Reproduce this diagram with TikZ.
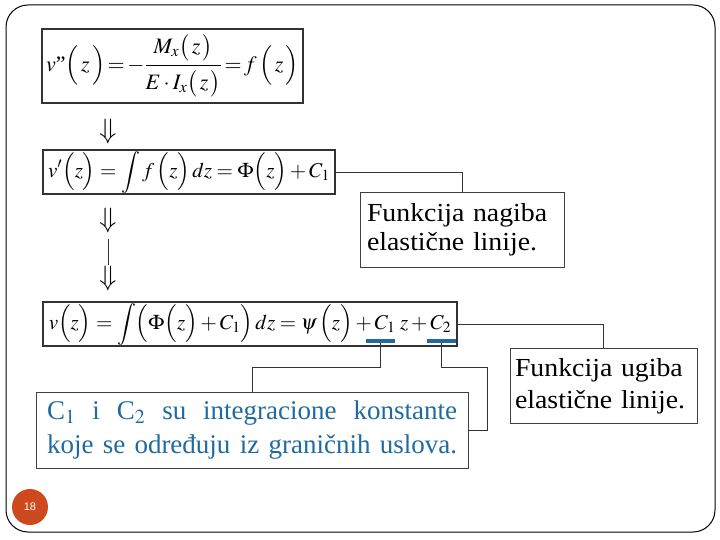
\documentclass[tikz,border=0pt]{standalone}
\usepackage{amsmath}
\usepackage{mathptmx}
\usepackage{fontspec}
\setmainfont{Liberation Serif}
\newfontfamily\notefont[FakeStretch=1.07]{Liberation Serif}
\newfontfamily\numfont{Liberation Sans}
\definecolor{slideblue}{HTML}{1F6BA0}
\definecolor{pageorange}{HTML}{CC4A1E}
\usepackage{tikz}
\usetikzlibrary{positioning}
\newcommand{\eqsign}{\mathrel{\mkern-2mu=\mkern-2mu}}
\tikzset{
	eqnode/.style={
			draw=black!80,
			line width=2pt,
			inner sep=0pt,
			font=\fontsize{21}{24}\selectfont
		},
	notenode/.style={
			draw=black!75,
			line width=0.8pt,
			inner ysep=0pt,
			inner xsep=7pt,
			align=left,
			font=\notefont\fontsize{26}{29}\selectfont
		},
	downnode/.style={
			inner sep=0pt,
			font=\fontsize{28}{28}\selectfont
		},
	linknode/.style={
			draw=black!80,
			line width=0.8pt
		},
	marknode/.style={
			draw=none,
			fill=slideblue,
			inner sep=0pt,
			minimum width=29pt,
			minimum height=3.5pt
		},
	pagenode/.style={
			circle,
			fill=pageorange,
			text=white,
			minimum size=36pt,
			inner sep=0pt,
			font=\numfont\fontsize{11}{11}\selectfont
		}
}

\begin{document}
\begin{tikzpicture}[x=1pt, y=-1pt]
\useasboundingbox (0,0) rectangle (720,540);
\draw[rounded corners=22pt, line width=1pt] (6,5) rectangle (715,532);

\node[eqnode, line width=1.5pt, minimum width=261pt, minimum height=74pt,
      font=\fontsize{22}{25}\selectfont] (eq1) at (172.5,66)
  {$\displaystyle v\mbox{"}\Bigl(\,z\,\Bigr)\eqsign-\frac{\raisebox{3pt}{$M_x\bigl(\,z\,\bigr)$}}{\raisebox{-3pt}{$E\cdot I_x\bigl(\,z\,\bigr)$}}\eqsign f\,\Bigl(\,z\,\Bigr)$};
\node[eqnode, minimum width=292pt, minimum height=44pt] (eq2) at (189,172)
  {$\displaystyle v'\Bigl(z\Bigr)=\int f\,\Bigl(z\Bigr)\,dz=\Phi\Bigl(z\Bigr)+C_1$};
\node[eqnode, minimum width=414pt, minimum height=44pt] (eq3) at (250,324)
  {$\displaystyle v\Bigl(z\Bigr)=\int\Bigl(\Phi\Bigl(z\Bigr)+C_1\Bigr)\,dz=\psi\,\Bigl(z\Bigr)+C_1\;z+C_2$};

\node[downnode] (d1) at (108,131) {$\Downarrow$};
\node[downnode] (d2) at (108,220) {$\Downarrow$};
\node[downnode] (d3) at (108,278) {$\Downarrow$};
\draw[linknode] ([yshift=-6pt]d2.south) -- (d3.north);

\node[notenode, text width=190pt, minimum height=75pt] (nagiba) at (462,229.5)
  {Funkcija nagiba\\elastične linije.};
\node[notenode, text width=177pt, inner xsep=5pt, minimum height=75pt,
      font=\notefont\fontsize{26}{32}\selectfont] (ugiba) at (603.5,386)
  {Funkcija ugiba\\elastične linije.};
\node[notenode, text=slideblue, minimum width=432pt, minimum height=76pt,
      font=\fontsize{27}{34}\selectfont] (konst) at (252,430)
  {\makebox[410pt][s]{C$_1$ i C$_2$ su integracione konstante}\\
   \makebox[410pt][s]{koje se određuju iz graničnih uslova.}};

\node[marknode] (c1) at (380.5,341) {};
\node[marknode] (c2) at (441.5,341) {};

\draw[linknode] (eq2.east) -| (nagiba.north);
\draw[linknode] (eq3.east) -| (ugiba.north);
\draw[linknode] (c1.south) -- ++(0,24) -| (konst.north);
\draw[linknode] (c2.south) -- ++(0,24) -- ++(46,0) |- (konst.east);

\node[pagenode] (pg) at (30,507) {18};
\end{tikzpicture}
\end{document}
